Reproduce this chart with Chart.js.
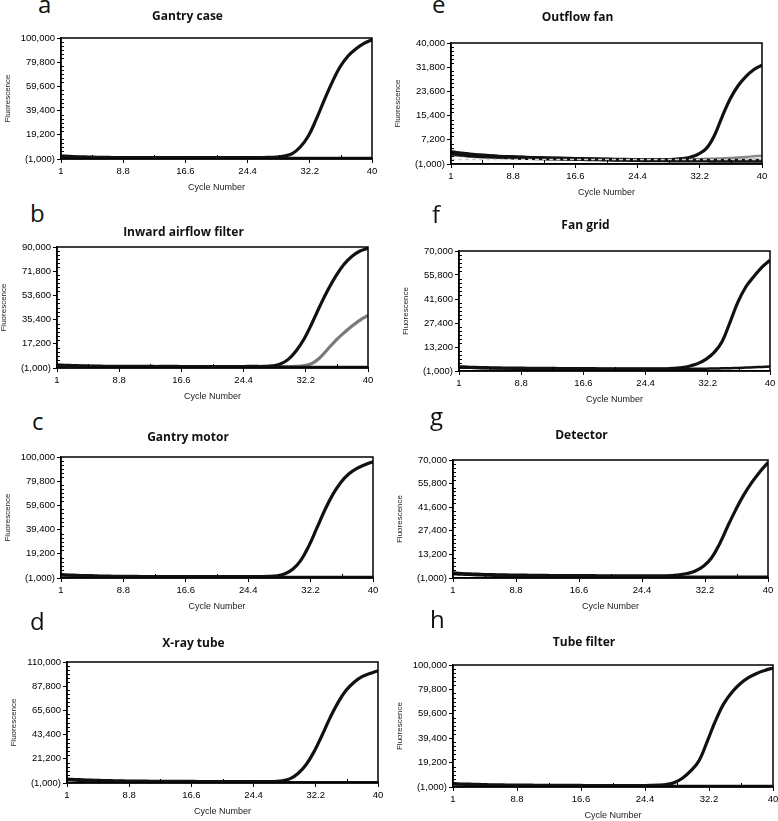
<!DOCTYPE html>
<html>
<head>
<meta charset="utf-8">
<script src="https://cdn.jsdelivr.net/npm/chart.js@4.4.1/dist/chart.umd.min.js"></script>
<style>
  body { margin: 0; background: #fff; width: 778px; height: 821px; position: relative; overflow: hidden; }
  canvas { position: absolute; }
  .letter { position: absolute; font-family: 'Open Sans', sans-serif; font-size: 24px; line-height: 24px; color: #111; }
</style>
</head>
<body>
<script>
// cycle numbers (x categories)
const cycles = [1,2,3,4,5,6,7,8,9,10,11,12,13,14,15,16,17,18,19,20,
                21,22,23,24,25,26,27,28,29,30,31,32,33,34,35,36,37,38,39,40];
const xTicks = [1, 8.8, 16.6, 24.4, 32.2, 40];

// y tick values per panel
const ticks100 = [-1000, 19200, 39400, 59600, 79800, 100000];
const ticks90  = [-1000, 17200, 35400, 53600, 71800, 90000];
const ticks110 = [-1000, 21200, 43400, 65600, 87800, 110000];
const ticks40  = [-1000, 7200, 15400, 23600, 31800, 40000];
const ticks70  = [-1000, 13200, 27400, 41600, 55800, 70000];

// fluorescence readings
const aMain = [1500,1200,900,700,500,400,300,250,200,200,150,150,100,100,100,100,100,100,100,100,
               100,100,100,150,150,200,300,600,1500,3500,9000,18000,32000,48000,63000,76000,85000,91000,95500,98500];
const aNeg  = [1000,800,600,400,300,200,100,0,-100,-100,-200,-200,-200,-200,-200,-200,-200,-200,-200,-200,
               -200,-200,-200,-200,-200,-200,-200,-200,-200,-200,-200,-200,-200,-200,-200,-200,-200,-200,-200,-200];

const bMain = [1200,1000,800,600,500,400,300,300,200,200,200,200,150,150,150,150,100,100,100,100,
               100,100,100,100,150,150,200,600,2000,5500,12000,21000,33000,46000,58000,68500,77000,83000,87000,89000];
const bGray = [800,600,400,300,200,100,100,100,100,100,100,100,100,100,100,100,100,100,100,100,
               100,100,100,100,100,100,100,100,100,100,200,800,2500,7000,13500,20000,25500,30500,35000,38500];
const bNeg  = [900,700,500,300,200,100,0,-100,-200,-200,-200,-200,-200,-200,-200,-200,-200,-200,-200,-200,
               -200,-200,-200,-200,-200,-200,-200,-200,-200,-200,-200,-200,-200,-200,-200,-200,-200,-200,-200,-200];

const cMain = [1800,1500,1200,1000,800,600,500,400,300,300,250,250,200,200,200,200,150,150,150,150,
               150,150,150,150,150,150,300,900,2500,6500,14000,26000,41000,56000,69000,79000,86000,90500,93500,96000];
const cNeg  = [1200,1000,800,600,400,300,200,100,0,-100,-200,-200,-200,-200,-200,-200,-200,-200,-200,-200,
               -200,-200,-200,-200,-200,-200,-200,-200,-200,-200,-200,-200,-200,-200,-200,-200,-200,-200,-200,-200];

const dMain = [2500,2200,1900,1600,1400,1200,1000,900,800,700,650,600,550,500,450,400,400,350,350,300,
               300,250,250,200,200,200,400,1000,3000,8000,16000,28000,43000,59000,73000,84000,91500,96500,99500,102000];
const dNeg  = [1600,1300,1000,800,600,400,300,200,100,0,-100,-200,-200,-200,-200,-200,-200,-200,-200,-200,
               -200,-200,-200,-200,-200,-200,-200,-200,-200,-200,-200,-200,-200,-200,-200,-200,-200,-200,-200,-200];

const eMain = [3200,2800,2500,2200,2000,1800,1600,1500,1400,1300,1200,1100,1000,900,900,800,700,700,600,600,
               500,500,400,400,400,400,400,500,600,800,1300,2300,4200,8500,15000,21000,25500,28700,31000,32500];
const eNeg  = [2600,2300,2000,1800,1600,1500,1400,1300,1200,1100,1000,950,900,850,800,750,700,650,600,550,
               500,450,400,350,300,300,250,250,200,200,200,150,150,100,100,100,100,100,100,100];
const eGray = [2000,1800,1600,1400,1300,1200,1100,1000,900,850,800,750,700,650,600,550,500,500,450,450,
               400,400,400,400,400,400,450,450,500,500,550,600,700,800,900,1000,1200,1400,1600,1800];
const eThresholdCycles = [1, 40];
const eThreshold = [500, 500];

const fMain = [1500,1300,1100,1000,900,800,750,700,650,600,550,500,500,450,400,400,350,350,300,300,
               300,250,250,250,200,250,300,600,1000,2000,3500,6000,10000,16500,28000,40000,49000,55000,60500,64500];
const fNeg  = [1000,900,800,700,600,500,450,400,350,300,300,250,250,200,200,200,200,200,200,200,
               200,200,200,200,200,200,200,200,200,250,300,400,500,600,700,800,1000,1200,1400,1600];

const gMain = [2000,1700,1500,1300,1100,1000,900,800,700,700,600,600,500,500,450,450,400,400,350,350,
               300,300,300,300,300,300,300,400,900,1700,3200,6000,11000,19500,30000,40000,49000,56500,63000,68500];
const gNeg  = [1400,1100,900,700,500,400,300,200,100,0,-100,-200,-200,-200,-200,-200,-200,-200,-200,-200,
               -200,-200,-200,-200,-200,-200,-200,-200,-200,-200,-200,-200,-200,-200,-200,-200,-200,-200,-200,-200];

const hMain = [1800,1500,1300,1100,900,800,700,600,550,500,450,400,400,350,300,300,250,250,200,200,
               200,200,200,200,300,500,1100,2800,6500,12500,21000,37000,54000,68000,77500,84500,89500,93000,95500,97500];
const hNeg  = [1200,1000,800,600,400,300,200,100,0,-100,-200,-200,-200,-200,-200,-200,-200,-200,-200,-200,
               -200,-200,-200,-200,-200,-200,-200,-200,-200,-200,-200,-200,-200,-200,-200,-200,-200,-200,-200,-200];

const black = { borderColor: '#111', borderWidth: 3.2 };
const negStyle = { borderColor: '#111', borderWidth: 2.5 };

// plot box [left, top, right, bottom] in page pixels, gap = title centre to plot top
const panels = [
  { letter: 'a', lx: 38,  lb: 13,  title: 'Gantry case', box: [61, 38, 372, 159], gap: 22, yTicks: ticks100,
    series: [{ data: aMain, ...black }, { data: aNeg, ...negStyle }] },
  { letter: 'b', lx: 30,  lb: 222, title: 'Inward airflow filter', box: [57, 247, 368, 368], gap: 15, yTicks: ticks90,
    series: [{ data: bMain, ...black }, { data: bNeg, ...negStyle }, { data: bGray, borderColor: '#7a7a7a', borderWidth: 3.2 }] },
  { letter: 'c', lx: 32,  lb: 430, title: 'Gantry motor', box: [61, 457, 373, 578], gap: 20, yTicks: ticks100,
    series: [{ data: cMain, ...black }, { data: cNeg, ...negStyle }] },
  { letter: 'd', lx: 30,  lb: 630, title: 'X-ray tube', box: [67, 662, 378, 783], gap: 19, yTicks: ticks110,
    series: [{ data: dMain, ...black }, { data: dNeg, ...negStyle }] },
  { letter: 'e', lx: 432, lb: 13,  title: 'Outflow fan', box: [451, 43, 762, 164], gap: 26, yTicks: ticks40,
    series: [{ data: eThreshold.map((v, i) => ({ x: eThresholdCycles[i], y: v })), borderColor: '#cfcfcf', borderWidth: 1.5, borderDash: [4, 3] },
             { data: eMain, ...black }, { data: eNeg, borderColor: '#111', borderWidth: 4 },
             { data: eGray, borderColor: '#8a8a8a', borderWidth: 2.5 }] },
  { letter: 'f', lx: 432, lb: 223, title: 'Fan grid', box: [459, 251, 770, 371], gap: 26, yTicks: ticks70,
    series: [{ data: fMain, ...black }, { data: fNeg, ...negStyle }] },
  { letter: 'g', lx: 430, lb: 425, title: 'Detector', box: [453, 460, 768, 578], gap: 25, yTicks: ticks70,
    series: [{ data: gMain, ...black }, { data: gNeg, ...negStyle }] },
  { letter: 'h', lx: 430, lb: 628, title: 'Tube filter', box: [453, 665, 773, 787], gap: 23, yTicks: ticks100,
    series: [{ data: hMain, ...black }, { data: hNeg, ...negStyle }] },
];

const YW = 58, XH = 36, RP = 8;
const tickFont = { family: "'Liberation Sans', Arial, sans-serif", size: 9.5 };

function fmtY(v) {
  const s = Math.abs(v).toLocaleString('en-US');
  return v < 0 ? '(' + s + ')' : s;
}

// frame round the plot plus the small minor ticks
const framePlugin = {
  id: 'frame',
  afterDatasetsDraw(chart) {
    const { ctx, chartArea: a, scales } = chart;
    const yt = chart.options.scales.y.customTicks;
    ctx.save();
    ctx.strokeStyle = '#000';
    ctx.lineWidth = 1.5;
    ctx.strokeRect(a.left, a.top, a.right - a.left, a.bottom - a.top);
    ctx.lineWidth = 1;
    ctx.beginPath();
    for (let i = 0; i < yt.length - 1; i++) {
      for (let k = 1; k < 6; k++) {
        const y = Math.round(scales.y.getPixelForValue(yt[i] + (yt[i + 1] - yt[i]) * k / 6)) + 0.5;
        ctx.moveTo(a.left, y); ctx.lineTo(a.left + 3, y);
      }
    }
    for (let i = 0; i < xTicks.length - 1; i++) {
      const x = Math.round(scales.x.getPixelForValue((xTicks[i] + xTicks[i + 1]) / 2)) + 0.5;
      ctx.moveTo(x, a.bottom); ctx.lineTo(x, a.bottom - 4);
    }
    ctx.stroke();
    ctx.restore();
  }
};

panels.forEach(p => {
  const [L, T, R, B] = p.box;
  const th = p.gap + 9;
  const w = R - L + YW + RP;
  const h = th + (B - T) + XH;

  const lab = document.createElement('div');
  lab.className = 'letter';
  lab.textContent = p.letter;
  lab.style.left = p.lx + 'px';
  lab.style.top = (p.lb - 21.3) + 'px';
  document.body.appendChild(lab);

  const cv = document.createElement('canvas');
  cv.width = w; cv.height = h;
  cv.style.width = w + 'px'; cv.style.height = h + 'px';
  cv.style.left = (L - YW) + 'px';
  cv.style.top = (T - th) + 'px';
  document.body.appendChild(cv);

  new Chart(cv, {
    type: 'line',
    data: {
      labels: cycles,
      datasets: p.series.map(s => ({
        pointRadius: 0,
        fill: false,
        tension: 0.4,
        ...s
      }))
    },
    options: {
      responsive: false,
      animation: false,
      layout: { padding: { left: 0, top: 0, bottom: 0, right: RP } },
      plugins: {
        legend: { display: false },
        tooltip: { enabled: false },
        title: {
          display: true,
          text: p.title,
          color: '#111',
          font: { family: "'Open Sans', sans-serif", size: 12, weight: 'bold', lineHeight: '14px' },
          padding: { top: 3, bottom: th - 17 }
        }
      },
      scales: {
        x: {
          type: 'linear',
          min: 1,
          max: 40,
          afterBuildTicks: s => { s.ticks = xTicks.map(v => ({ value: v })); },
          afterFit: s => { s.height = XH; s.paddingLeft = 0; s.paddingRight = 0; },
          ticks: { color: '#000', font: tickFont, padding: 3, maxRotation: 0, autoSkip: false,
                   callback: v => String(v) },
          grid: { drawOnChartArea: false, tickLength: 4, color: '#000' },
          border: { display: true, color: '#000', width: 1.5 },
          title: { display: true, text: 'Cycle Number', color: '#222',
                   font: { family: "'Liberation Sans', Arial, sans-serif", size: 9 }, padding: { top: 0, bottom: 2 } }
        },
        y: {
          customTicks: p.yTicks,
          min: p.yTicks[0],
          max: p.yTicks[p.yTicks.length - 1],
          afterBuildTicks: s => { s.ticks = p.yTicks.map(v => ({ value: v })); },
          afterFit: s => { s.width = YW; s.paddingTop = 0; s.paddingBottom = 0; },
          ticks: { color: '#000', font: tickFont, padding: 2, autoSkip: false, callback: v => fmtY(v) },
          grid: { drawOnChartArea: false, tickLength: 4, color: '#000' },
          border: { display: true, color: '#000', width: 1.5 },
          title: { display: true, text: 'Fluorescence', color: '#222',
                   font: { family: "'Liberation Sans', Arial, sans-serif", size: 8 }, padding: 0 }
        }
      }
    },
    plugins: [framePlugin]
  });
});
</script>
</body>
</html>
